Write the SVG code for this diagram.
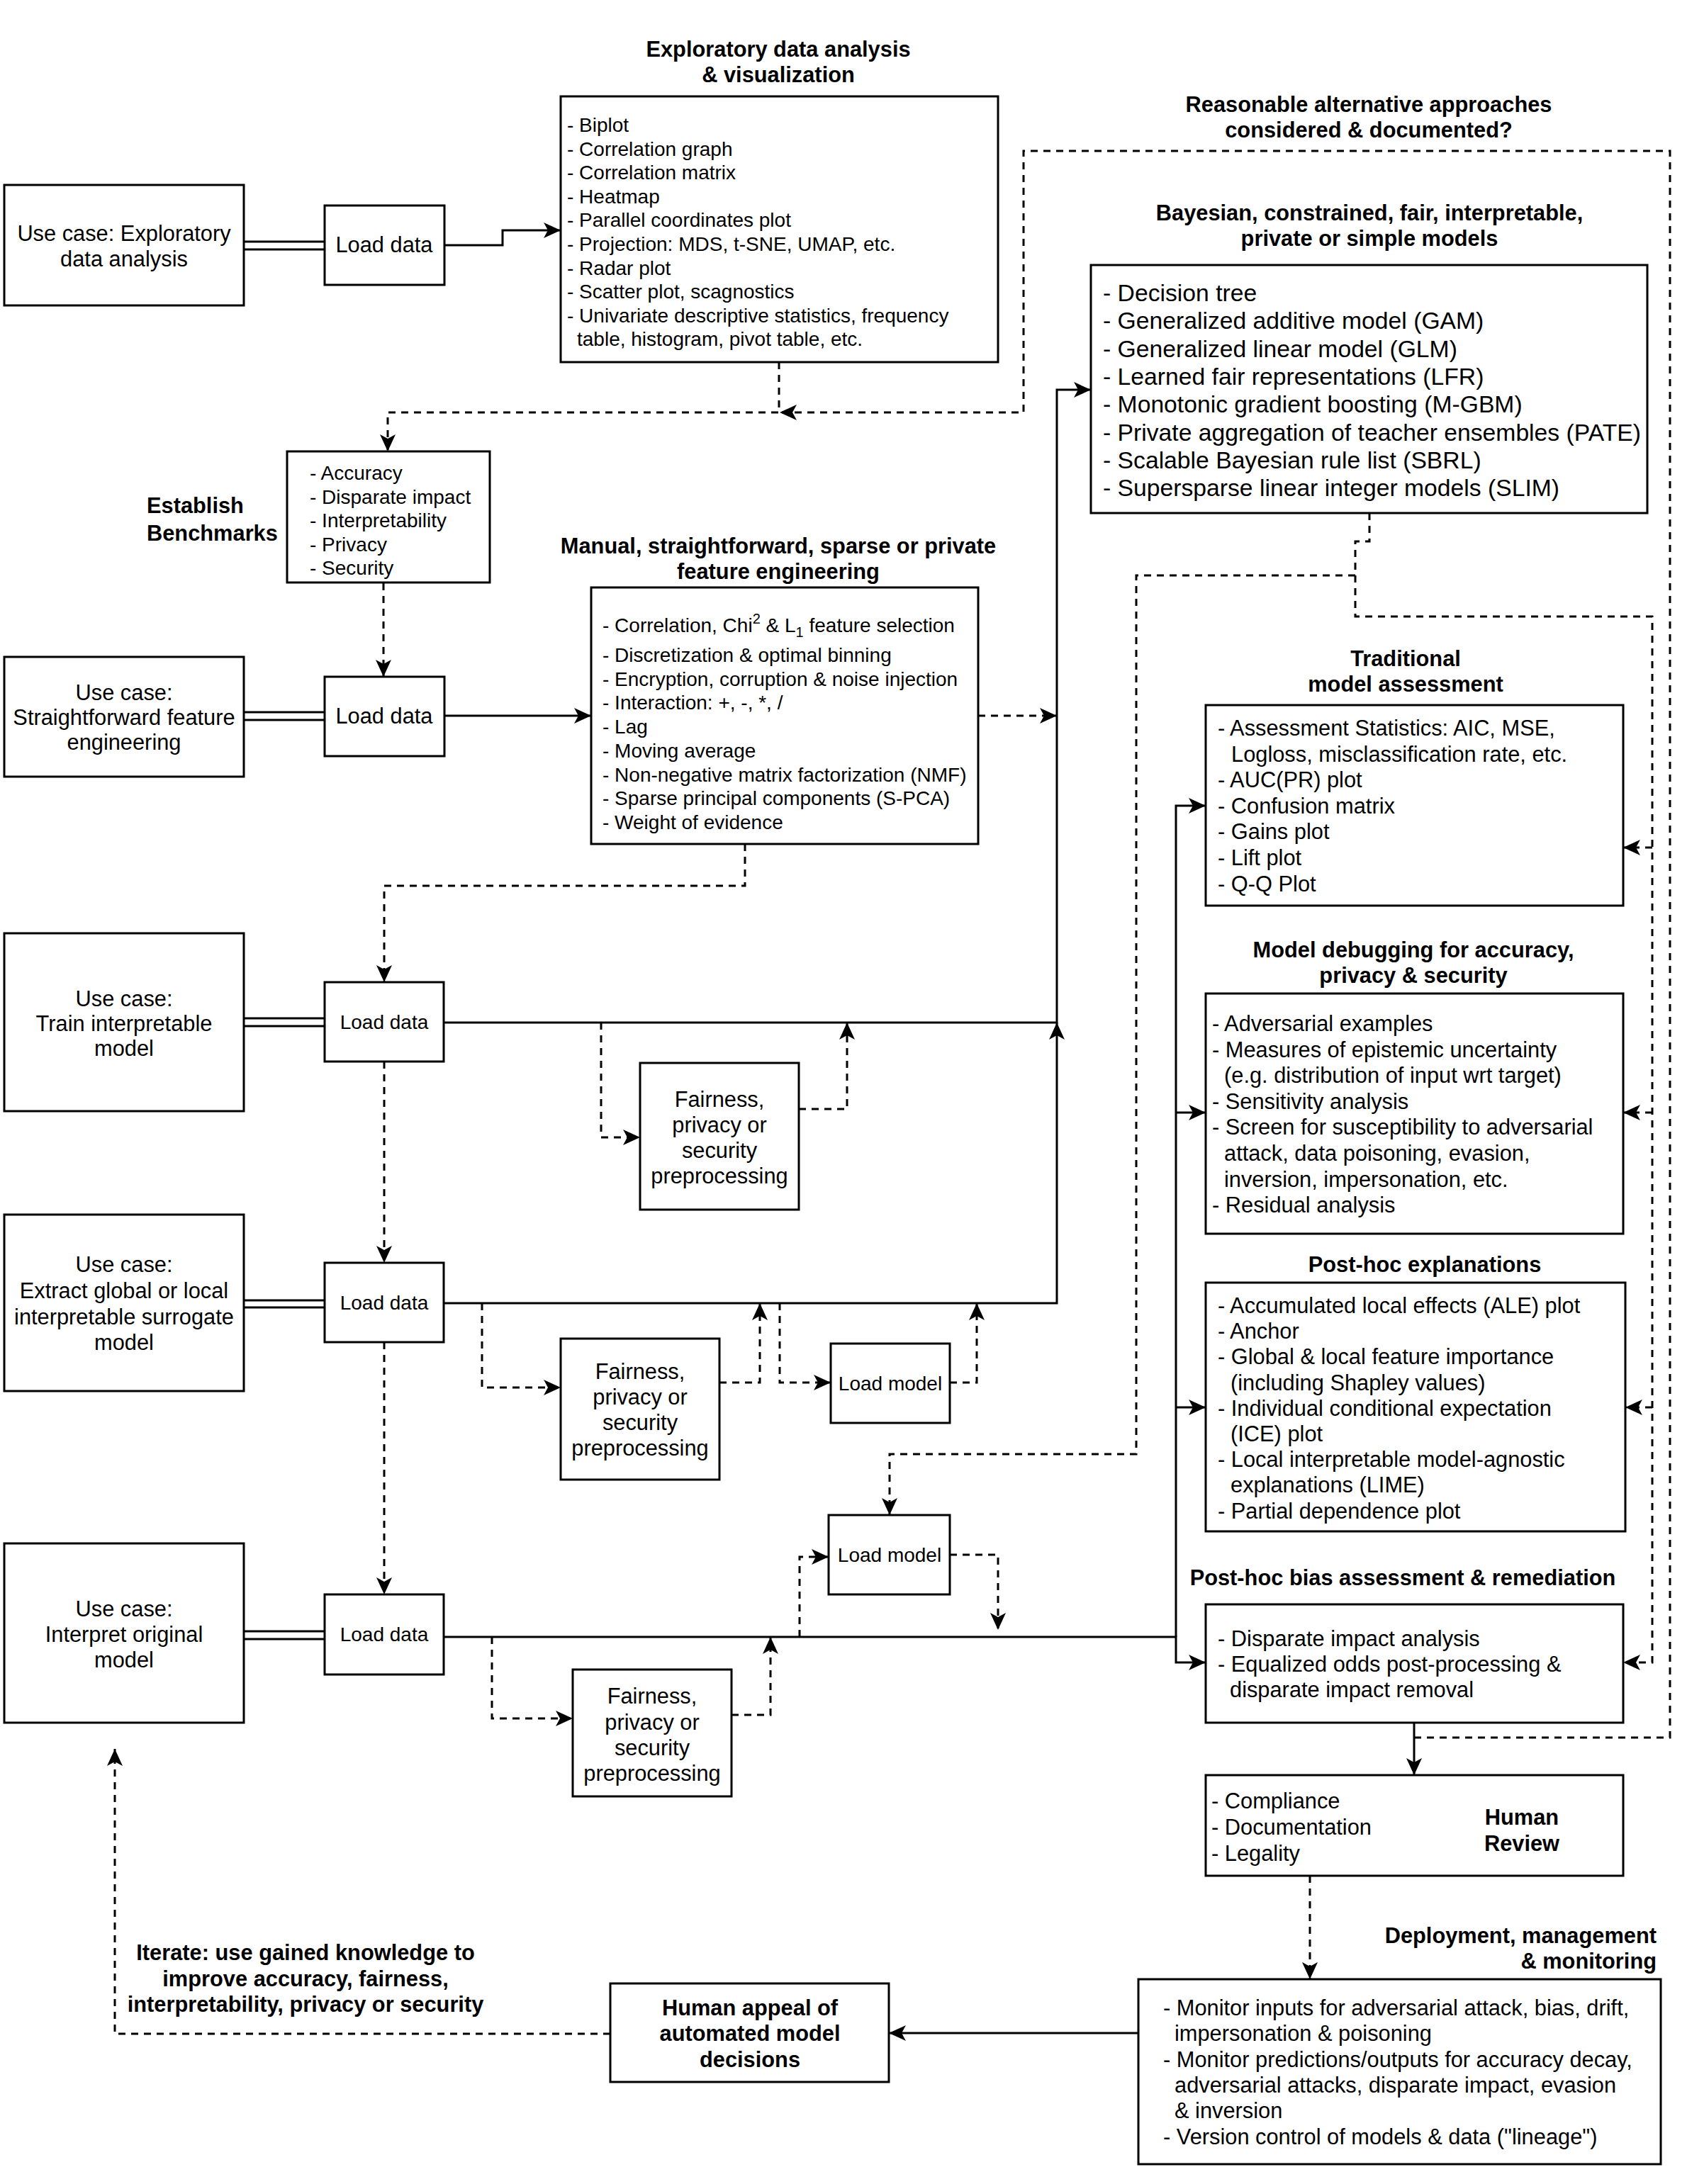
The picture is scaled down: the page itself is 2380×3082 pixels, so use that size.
<svg xmlns="http://www.w3.org/2000/svg" width="2380" height="3082" viewBox="0 0 2380 3082">
<style>
text{font-family:"Liberation Sans",Arial,Helvetica,sans-serif;font-size:30.8px;fill:#000}
.b{font-weight:bold}
.c{text-anchor:middle}
.s28{font-size:28px}
.s33{font-size:33.7px}
.box{fill:#fff;stroke:#000;stroke-width:3}
.ln{fill:none;stroke:#000;stroke-width:3}
.d{stroke-dasharray:10 8}
</style>
<defs>
<marker id="ah" viewBox="0 0 24 24" refX="24" refY="12" markerWidth="24" markerHeight="24" markerUnits="userSpaceOnUse" orient="auto">
<path d="M0,1 L24,12 L0,23 L6,12 Z" style="fill:#000;stroke:none"/>
</marker>
</defs>
<rect width="2380" height="3082" fill="#fff"/>

<g id="connectors">
<!-- double lines -->
<path class="ln" d="M344,341 H458 M344,352 H458 M344,1005 H458 M344,1016 H458 M344,1437 H458 M344,1448 H458 M344,1835 H458 M344,1845 H458 M344,2302 H458 M344,2313 H458"/>
<!-- solid -->
<path class="ln" d="M627,346 H709 V325 H791" marker-end="url(#ah)"/>
<path class="ln" d="M627,1010 H834" marker-end="url(#ah)"/>
<path class="ln" d="M626,1443 H1491 V550 H1539" marker-end="url(#ah)"/>
<path class="ln" d="M626,1839 H1491 V1443" marker-end="url(#ah)"/>
<path class="ln" d="M626,2310 H1659 V2346 H1701" marker-end="url(#ah)"/>
<path class="ln" d="M1659,2310 V1137 H1701" marker-end="url(#ah)"/>
<path class="ln" d="M1659,1570 H1701" marker-end="url(#ah)"/>
<path class="ln" d="M1659,1986 H1701" marker-end="url(#ah)"/>
<path class="ln" d="M1995,2431 V2505" marker-end="url(#ah)"/>
<path class="ln" d="M1606,2869 H1254" marker-end="url(#ah)"/>
<!-- dashed -->
<path class="ln d" d="M1099,511 V582 H547 V637" marker-end="url(#ah)"/>
<path class="ln d" d="M1995,2452 H2356 V213 H1444 V582 H1100" marker-end="url(#ah)"/>
<path class="ln d" d="M541,823 V955" marker-end="url(#ah)"/>
<path class="ln d" d="M1380,1010 H1491" marker-end="url(#ah)"/>
<path class="ln d" d="M1051,1191 V1250 H542 V1386" marker-end="url(#ah)"/>
<path class="ln d" d="M542,1498 V1782" marker-end="url(#ah)"/>
<path class="ln d" d="M542,1894 V2250" marker-end="url(#ah)"/>
<path class="ln d" d="M848,1443 V1605 H903" marker-end="url(#ah)"/>
<path class="ln d" d="M1127,1565 H1195 V1443" marker-end="url(#ah)"/>
<path class="ln d" d="M680,1839 V1958 H791" marker-end="url(#ah)"/>
<path class="ln d" d="M1015,1951 H1072 V1839" marker-end="url(#ah)"/>
<path class="ln d" d="M1100,1839 V1951 H1172" marker-end="url(#ah)"/>
<path class="ln d" d="M1340,1951 H1378 V1839" marker-end="url(#ah)"/>
<path class="ln d" d="M694,2310 V2425 H808" marker-end="url(#ah)"/>
<path class="ln d" d="M1032,2420 H1087 V2310" marker-end="url(#ah)"/>
<path class="ln d" d="M1128,2310 V2197 H1169" marker-end="url(#ah)"/>
<path class="ln d" d="M1340,2194 H1408 V2300" marker-end="url(#ah)"/>
<path class="ln d" d="M1932,724 V764 H1912 V870 H2331 V2346 H2290" marker-end="url(#ah)"/>
<path class="ln d" d="M2331,1196 H2290" marker-end="url(#ah)"/>
<path class="ln d" d="M2331,1570 H2290" marker-end="url(#ah)"/>
<path class="ln d" d="M2331,1986 H2293" marker-end="url(#ah)"/>
<path class="ln d" d="M1912,812 H1603 V2052 H1255 V2138" marker-end="url(#ah)"/>
<path class="ln d" d="M1848,2647 V2793" marker-end="url(#ah)"/>
<path class="ln d" d="M861,2870 H162 V2468" marker-end="url(#ah)"/>
</g>

<g id="usecase-eda">
<rect class="box" x="6" y="261" width="338" height="170"/>
<text class="c" x="175" y="340">Use case: Exploratory</text>
<text class="c" x="175" y="376">data analysis</text>
</g>
<g id="loaddata-1">
<rect class="box" x="458" y="290" width="169" height="112"/>
<text class="c" x="542" y="356">Load data</text>
</g>
<g id="eda">
<text class="b c" x="1098" y="80">Exploratory data analysis</text>
<text class="b c" x="1098" y="116">&amp; visualization</text>
<rect class="box" x="791" y="136" width="617" height="375"/>
<text class="s28" x="800" y="186">- Biplot</text>
<text class="s28" x="800" y="219.6">- Correlation graph</text>
<text class="s28" x="800" y="253.2">- Correlation matrix</text>
<text class="s28" x="800" y="286.8">- Heatmap</text>
<text class="s28" x="800" y="320.4">- Parallel coordinates plot</text>
<text class="s28" x="800" y="354">- Projection: MDS, t-SNE, UMAP, etc.</text>
<text class="s28" x="800" y="387.6">- Radar plot</text>
<text class="s28" x="800" y="421.2">- Scatter plot, scagnostics</text>
<text class="s28" x="800" y="454.8">- Univariate descriptive statistics, frequency</text>
<text class="s28" x="814" y="488.4">table, histogram, pivot table, etc.</text>
</g>
<g id="alt-label">
<text class="b c" x="1931" y="158">Reasonable alternative approaches</text>
<text class="b c" x="1931" y="194">considered &amp; documented?</text>
</g>
<g id="bayesian">
<text class="b c" x="1932" y="311">Bayesian, constrained, fair, interpretable,</text>
<text class="b c" x="1932" y="347">private or simple models</text>
<rect class="box" x="1539" y="374" width="785" height="350"/>
<text class="s33" x="1556" y="425">- Decision tree</text>
<text class="s33" x="1556" y="464.3">- Generalized additive model (GAM)</text>
<text class="s33" x="1556" y="503.6">- Generalized linear model (GLM)</text>
<text class="s33" x="1556" y="542.9">- Learned fair representations (LFR)</text>
<text class="s33" x="1556" y="582.2">- Monotonic gradient boosting (M-GBM)</text>
<text class="s33" x="1556" y="621.5">- Private aggregation of teacher ensembles (PATE)</text>
<text class="s33" x="1556" y="660.8">- Scalable Bayesian rule list (SBRL)</text>
<text class="s33" x="1556" y="700.1">- Supersparse linear integer models (SLIM)</text>
</g>
<g id="benchmarks">
<text class="b" x="207" y="724">Establish</text>
<text class="b" x="207" y="763">Benchmarks</text>
<rect class="box" x="405" y="637" width="286" height="185"/>
<text class="s28" x="437" y="677">- Accuracy</text>
<text class="s28" x="437" y="710.5">- Disparate impact</text>
<text class="s28" x="437" y="744">- Interpretability</text>
<text class="s28" x="437" y="777.5">- Privacy</text>
<text class="s28" x="437" y="811">- Security</text>
</g>
<g id="usecase-feature">
<rect class="box" x="6" y="927" width="338" height="169"/>
<text class="c" x="175" y="988">Use case:</text>
<text class="c" x="175" y="1023">Straightforward feature</text>
<text class="c" x="175" y="1058">engineering</text>
</g>
<g id="loaddata-2">
<rect class="box" x="458" y="955" width="169" height="112"/>
<text class="c" x="542" y="1021">Load data</text>
</g>
<g id="feature-eng">
<text class="b c" x="1098" y="781">Manual, straightforward, sparse or private</text>
<text class="b c" x="1098" y="817">feature engineering</text>
<rect class="box" x="834" y="829" width="546" height="362"/>
<text class="s28" x="850" y="892">- Correlation, Chi<tspan font-size="20" dy="-12">2</tspan><tspan dy="12"> &amp; L</tspan><tspan font-size="20" dy="7">1</tspan><tspan dy="-7"> feature selection</tspan></text>
<text class="s28" x="850" y="934">- Discretization &amp; optimal binning</text>
<text class="s28" x="850" y="967.5">- Encryption, corruption &amp; noise injection</text>
<text class="s28" x="850" y="1001">- Interaction: +, -, *, /</text>
<text class="s28" x="850" y="1035">- Lag</text>
<text class="s28" x="850" y="1069">- Moving average</text>
<text class="s28" x="850" y="1102.5">- Non-negative matrix factorization (NMF)</text>
<text class="s28" x="850" y="1136">- Sparse principal components (S-PCA)</text>
<text class="s28" x="850" y="1170">- Weight of evidence</text>
</g>
<g id="usecase-train">
<rect class="box" x="6" y="1317" width="338" height="251"/>
<text class="c" x="175" y="1420">Use case:</text>
<text class="c" x="175" y="1455">Train interpretable</text>
<text class="c" x="175" y="1490">model</text>
</g>
<g id="loaddata-3">
<rect class="box" x="458" y="1386" width="168" height="112"/>
<text class="c s28" x="542" y="1452">Load data</text>
</g>
<g id="fairness-1">
<rect class="box" x="903" y="1500" width="224" height="207"/>
<text class="c" x="1015" y="1562">Fairness,</text>
<text class="c" x="1015" y="1598">privacy or</text>
<text class="c" x="1015" y="1634">security</text>
<text class="c" x="1015" y="1670">preprocessing</text>
</g>
<g id="usecase-surrogate">
<rect class="box" x="6" y="1714" width="338" height="249"/>
<text class="c" x="175" y="1795">Use case:</text>
<text class="c" x="175" y="1832">Extract global or local</text>
<text class="c" x="175" y="1869">interpretable surrogate</text>
<text class="c" x="175" y="1905">model</text>
</g>
<g id="loaddata-4">
<rect class="box" x="458" y="1782" width="168" height="112"/>
<text class="c s28" x="542" y="1848">Load data</text>
</g>
<g id="fairness-2">
<rect class="box" x="791" y="1889" width="224" height="199"/>
<text class="c" x="903" y="1946">Fairness,</text>
<text class="c" x="903" y="1982">privacy or</text>
<text class="c" x="903" y="2018">security</text>
<text class="c" x="903" y="2054">preprocessing</text>
</g>
<g id="loadmodel-1">
<rect class="box" x="1172" y="1896" width="168" height="112"/>
<text class="c s28" x="1256" y="1962">Load model</text>
</g>
<g id="usecase-interpret">
<rect class="box" x="6" y="2178" width="338" height="253"/>
<text class="c" x="175" y="2281">Use case:</text>
<text class="c" x="175" y="2317">Interpret original</text>
<text class="c" x="175" y="2353">model</text>
</g>
<g id="loaddata-5">
<rect class="box" x="458" y="2250" width="168" height="113"/>
<text class="c s28" x="542" y="2316">Load data</text>
</g>
<g id="fairness-3">
<rect class="box" x="808" y="2356" width="224" height="179"/>
<text class="c" x="920" y="2404">Fairness,</text>
<text class="c" x="920" y="2441">privacy or</text>
<text class="c" x="920" y="2477">security</text>
<text class="c" x="920" y="2513">preprocessing</text>
</g>
<g id="loadmodel-2">
<rect class="box" x="1169" y="2138" width="171" height="112"/>
<text class="c s28" x="1255" y="2204">Load model</text>
</g>
<g id="traditional">
<text class="b c" x="1983" y="940">Traditional</text>
<text class="b c" x="1983" y="976">model assessment</text>
<rect class="box" x="1701" y="995" width="589" height="283"/>
<text x="1718" y="1038">- Assessment Statistics: AIC, MSE,</text>
<text x="1737" y="1074.6">Logloss, misclassification rate, etc.</text>
<text x="1718" y="1111.2">- AUC(PR) plot</text>
<text x="1718" y="1147.8">- Confusion matrix</text>
<text x="1718" y="1184.4">- Gains plot</text>
<text x="1718" y="1221">- Lift plot</text>
<text x="1718" y="1257.6">- Q-Q Plot</text>
</g>
<g id="debugging">
<text class="b c" x="1994" y="1351">Model debugging for accuracy,</text>
<text class="b c" x="1994" y="1387">privacy &amp; security</text>
<rect class="box" x="1701" y="1402" width="589" height="339"/>
<text x="1710" y="1455">- Adversarial examples</text>
<text x="1710" y="1491.6">- Measures of epistemic uncertainty</text>
<text x="1727" y="1528.2">(e.g. distribution of input wrt target)</text>
<text x="1710" y="1564.8">- Sensitivity analysis</text>
<text x="1710" y="1601.4">- Screen for susceptibility to adversarial</text>
<text x="1727" y="1638">attack, data poisoning, evasion,</text>
<text x="1727" y="1674.6">inversion, impersonation, etc.</text>
<text x="1710" y="1711.2">- Residual analysis</text>
</g>
<g id="explanations">
<text class="b c" x="2010" y="1795">Post-hoc explanations</text>
<rect class="box" x="1701" y="1810" width="592" height="351"/>
<text x="1718" y="1853">- Accumulated local effects (ALE) plot</text>
<text x="1718" y="1889.2">- Anchor</text>
<text x="1718" y="1925.4">- Global &amp; local feature importance</text>
<text x="1736" y="1961.6">(including Shapley values)</text>
<text x="1718" y="1997.8">- Individual conditional expectation</text>
<text x="1736" y="2034">(ICE) plot</text>
<text x="1718" y="2070.2">- Local interpretable model-agnostic</text>
<text x="1736" y="2106.4">explanations (LIME)</text>
<text x="1718" y="2142.6">- Partial dependence plot</text>
</g>
<g id="bias">
<text class="b c" x="1979" y="2237">Post-hoc bias assessment &amp; remediation</text>
<rect class="box" x="1701" y="2264" width="589" height="167"/>
<text x="1718" y="2323">- Disparate impact analysis</text>
<text x="1718" y="2359">- Equalized odds post-processing &amp;</text>
<text x="1735" y="2395">disparate impact removal</text>
</g>
<g id="human-review">
<rect class="box" x="1701" y="2505" width="589" height="142"/>
<text x="1709" y="2552">- Compliance</text>
<text x="1709" y="2589">- Documentation</text>
<text x="1709" y="2626">- Legality</text>
<text class="b c" x="2147" y="2575">Human</text>
<text class="b c" x="2147" y="2612">Review</text>
</g>
<g id="deployment">
<text class="b" x="2337" y="2742" text-anchor="end">Deployment, management</text>
<text class="b" x="2337" y="2778" text-anchor="end">&amp; monitoring</text>
<rect class="box" x="1606" y="2793" width="737" height="261"/>
<text x="1641" y="2844">- Monitor inputs for adversarial attack, bias, drift,</text>
<text x="1657" y="2880.3">impersonation &amp; poisoning</text>
<text x="1641" y="2916.6">- Monitor predictions/outputs for accuracy decay,</text>
<text x="1657" y="2952.9">adversarial attacks, disparate impact, evasion</text>
<text x="1657" y="2989.2">&amp; inversion</text>
<text x="1641" y="3025.5">- Version control of models &amp; data ("lineage")</text>
</g>
<g id="human-appeal">
<rect class="box" x="861" y="2799" width="393" height="139"/>
<text class="b c" x="1058" y="2844">Human appeal of</text>
<text class="b c" x="1058" y="2880">automated model</text>
<text class="b c" x="1058" y="2917">decisions</text>
</g>
<g id="iterate-label">
<text class="b c" x="431" y="2766">Iterate: use gained knowledge to</text>
<text class="b c" x="431" y="2803">improve accuracy, fairness,</text>
<text class="b c" x="431" y="2839">interpretability, privacy or security</text>
</g>
</svg>
